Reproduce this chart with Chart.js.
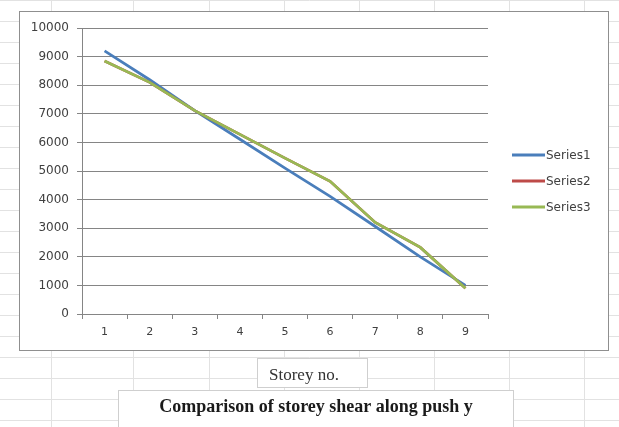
<!DOCTYPE html>
<html>
<head>
<meta charset="utf-8">
<script src="https://cdn.jsdelivr.net/npm/chart.js@4.4.1/dist/chart.umd.min.js"></script>
<style>
  html, body { margin: 0; padding: 0; background: #ffffff; }
  #wrap { position: relative; width: 619px; height: 427px; overflow: hidden; }
  canvas { display: block; }
</style>
</head>
<body>
<div id="wrap"><canvas id="chart" width="619" height="427"></canvas></div>
<script>
// Storey numbers along the category axis
const storeys = ['1', '2', '3', '4', '5', '6', '7', '8', '9'];

// Storey shear per storey for each series
const series1 = [9200, 8190, 7110, 6110, 5100, 4110, 3060, 2000, 1000];
const series2 = [8850, 8100, 7110, 6280, 5450, 4640, 3200, 2330, 900];
const series3 = [8850, 8100, 7110, 6280, 5450, 4640, 3200, 2330, 900];

const seriesNames = ['Series1', 'Series2', 'Series3'];
const seriesColors = ['#4a7ebb', '#be4b48', '#98b954'];

// Value axis range
const yMin = 0;
const yMax = 10000;
const yStep = 1000;

const axisTitle = 'Storey no.';
const chartTitle = 'Comparison of storey shear along push y';

const W = 619, H = 427;

// Worksheet cells behind the chart object, the chart frame, the legend and the two caption boxes
const sheetPlugin = {
  id: 'sheet',
  beforeDraw(chart) {
    const ctx = chart.ctx;
    ctx.save();
    ctx.fillStyle = '#ffffff';
    ctx.fillRect(0, 0, W, H);
    // worksheet grid
    ctx.strokeStyle = '#e2e2e2';
    ctx.lineWidth = 1;
    for (let y = 420; y >= 0; y -= 21) {
      ctx.beginPath(); ctx.moveTo(0, y + 0.5); ctx.lineTo(W, y + 0.5); ctx.stroke();
    }
    [51, 133, 209, 284, 359, 434, 509, 584].forEach(x => {
      ctx.beginPath(); ctx.moveTo(x + 0.5, 0); ctx.lineTo(x + 0.5, H); ctx.stroke();
    });
    // chart frame
    ctx.fillStyle = '#ffffff';
    ctx.fillRect(19.5, 11.5, 589, 339);
    ctx.strokeStyle = '#8f8f8f';
    ctx.strokeRect(19.5, 11.5, 589, 339);
    ctx.restore();
  },
  afterDraw(chart) {
    const ctx = chart.ctx;
    ctx.save();
    // legend
    chart.data.datasets.forEach((ds, i) => {
      const y = 155 + i * 26;
      ctx.strokeStyle = ds.borderColor;
      ctx.lineWidth = 3;
      ctx.beginPath(); ctx.moveTo(512, y); ctx.lineTo(545, y); ctx.stroke();
      ctx.fillStyle = '#404040';
      ctx.font = '12px "DejaVu Sans"';
      ctx.textAlign = 'left';
      ctx.textBaseline = 'middle';
      ctx.fillText(ds.label, 546, y + 1);
    });
    // axis caption box
    ctx.fillStyle = '#ffffff';
    ctx.fillRect(257.5, 358.5, 110, 29);
    ctx.strokeStyle = '#cfcfcf';
    ctx.lineWidth = 1;
    ctx.strokeRect(257.5, 358.5, 110, 29);
    ctx.fillStyle = '#333333';
    ctx.font = '17px "Liberation Serif"';
    ctx.textAlign = 'left';
    ctx.textBaseline = 'alphabetic';
    ctx.fillText(axisTitle, 269, 380);
    // chart caption box
    ctx.fillStyle = '#ffffff';
    ctx.fillRect(118.5, 390.5, 395, 45);
    ctx.strokeStyle = '#cfcfcf';
    ctx.strokeRect(118.5, 390.5, 395, 45);
    ctx.fillStyle = '#1a1a1a';
    ctx.font = 'bold 18px "Liberation Serif"';
    ctx.textAlign = 'center';
    ctx.fillText(chartTitle, 316, 412);
    ctx.restore();
  }
};

const datasets = [series1, series2, series3].map((values, i) => ({
  label: seriesNames[i],
  data: values,
  borderColor: seriesColors[i],
  backgroundColor: seriesColors[i],
  borderWidth: 2.75,
  pointRadius: 0,
  pointHoverRadius: 0,
  tension: 0,
  fill: false,
  order: 3 - i
}));

const axisGray = '#858585';

new Chart(document.getElementById('chart'), {
  type: 'line',
  data: { labels: storeys, datasets },
  options: {
    responsive: false,
    animation: false,
    devicePixelRatio: 1,
    layout: { padding: { left: 0, top: 28, right: 131, bottom: 73 } },
    plugins: {
      legend: { display: false },
      title: { display: false },
      tooltip: { enabled: false }
    },
    scales: {
      x: {
        type: 'category',
        offset: true,
        afterFit(scale) { scale.height = 40; },
        grid: {
          offset: true,
          drawOnChartArea: false,
          drawTicks: true,
          tickLength: 5,
          color: axisGray
        },
        border: { display: true, color: axisGray, width: 1 },
        ticks: {
          padding: 7,
          color: '#404040',
          font: { family: '"DejaVu Sans"', size: 11 }
        }
      },
      y: {
        min: yMin,
        max: yMax,
        afterFit(scale) { scale.width = 82; },
        grid: {
          color: axisGray,
          lineWidth: 1,
          drawTicks: true,
          tickLength: 5
        },
        border: { display: true, color: axisGray, width: 1 },
        ticks: {
          stepSize: yStep,
          padding: 8,
          color: '#404040',
          font: { family: '"DejaVu Sans"', size: 12 },
          callback: (value) => String(value)
        }
      }
    }
  },
  plugins: [sheetPlugin]
});
</script>
</body>
</html>
